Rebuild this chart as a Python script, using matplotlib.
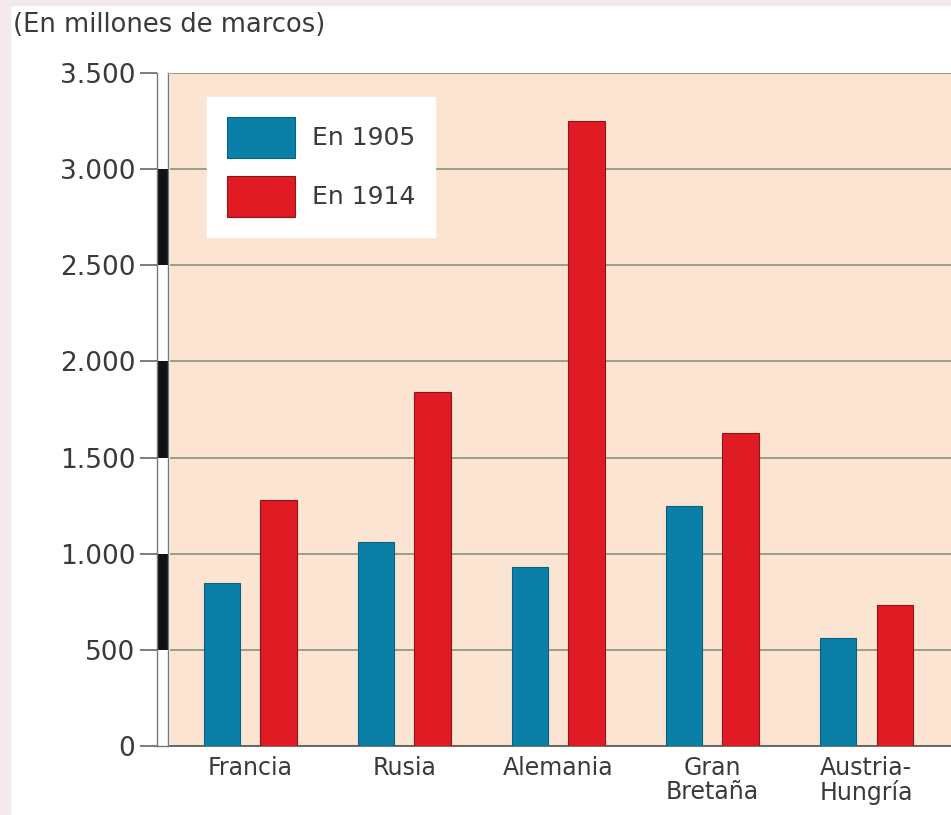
import numpy as np
import matplotlib
matplotlib.use("Agg")
import matplotlib.pyplot as plt
from matplotlib.patches import Rectangle

# data (millions of marks)
paises = ["Francia", "Rusia", "Alemania", "Gran\nBretaña", "Austria-\nHungría"]
gasto_1905 = [850, 1060, 930, 1250, 560]
gasto_1914 = [1280, 1840, 3250, 1630, 735]
yticks = [0, 500, 1000, 1500, 2000, 2500, 3000, 3500]
ytick_labels = ["0", "500", "1.000", "1.500", "2.000", "2.500", "3.000", "3.500"]

W, H = 951, 815
fig = plt.figure(figsize=(W / 100, H / 100), dpi=100, facecolor="white")
plt.rcParams["font.family"] = ["DejaVu Sans"]

# light lavender frame at top/left edge
fig.patches.append(Rectangle((0, 0), 10 / W, 1, transform=fig.transFigure, color="#f4e8ee", zorder=0))
fig.patches.append(Rectangle((0, 1 - 5 / H), 1, 5 / H, transform=fig.transFigure, color="#f4e8ee", zorder=0))

bottom = (H - 746) / H
height = (746 - 73) / H
left = 170 / W

ax = fig.add_axes([left, bottom, 1 - left, height], facecolor="#fce4d3")
x = np.arange(len(paises))
w = 0.235
off = 0.184
ax.bar(x - off, gasto_1905, w, color="#0a80a8", edgecolor="#0a5f7c", linewidth=0.8, label="En 1905", zorder=3)
ax.bar(x + off, gasto_1914, w, color="#e01b24", edgecolor="#8e1418", linewidth=0.8, label="En 1914", zorder=3)
ax.set_xlim(-0.52, 4.55)
ax.set_ylim(0, 3500)
ax.set_yticks(yticks)
ax.yaxis.grid(True, color="#8d9a80", linewidth=1.3, zorder=1)
ax.set_axisbelow(True)
ax.tick_params(axis="y", left=False, labelleft=False)
ax.set_xticks(x)
ax.set_xticklabels(paises, fontsize=17, color="#3a3a3a", linespacing=1.0)
ax.tick_params(axis="x", length=0, pad=7)
for s in ["top", "right", "left"]:
    ax.spines[s].set_visible(False)
ax.spines["bottom"].set_color("#555555")
ax.spines["bottom"].set_linewidth(1.2)

leg = ax.legend(loc="upper left", bbox_to_anchor=(207 / W, 1 - 97 / H), bbox_transform=fig.transFigure,
                fontsize=18, frameon=True, fancybox=False, framealpha=1, edgecolor="white",
                handlelength=2.72, handleheight=2.14, handletextpad=0.68, labelspacing=0.72,
                borderpad=0.8, borderaxespad=0)
for t in leg.get_texts():
    t.set_color("#3a3a3a")

# ruler-style y axis with alternating black/white blocks
axr = fig.add_axes([157 / W, bottom, 11 / W, height])
for k in range(7):
    axr.bar(0, 500, 1, bottom=k * 500, color="#111111" if k % 2 else "white", linewidth=0)
axr.set_xlim(-0.5, 0.5)
axr.set_ylim(0, 3500)
axr.set_xticks([])
axr.set_yticks(yticks)
axr.set_yticklabels(ytick_labels, fontsize=19, color="#3a3a3a")
axr.tick_params(axis="y", length=12, width=1.2, color="#666666", pad=3.5)
for s in axr.spines.values():
    s.set_color("#777777")
    s.set_linewidth(1)
axr.spines["top"].set_visible(False)

fig.text(13 / W, 1 - 12 / H, "(En millones de marcos)", fontsize=18.5, color="#3a3a3a", va="top", ha="left")

fig.savefig("out.png", dpi=100, facecolor=fig.get_facecolor())
